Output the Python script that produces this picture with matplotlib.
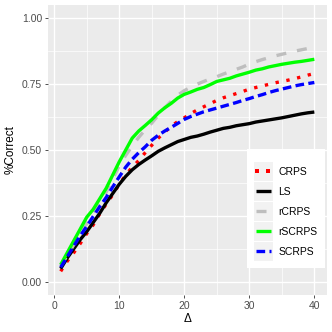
import matplotlib
matplotlib.use("Agg")
import matplotlib.pyplot as plt
from matplotlib.patches import Rectangle
from matplotlib.lines import Line2D
import numpy as np

plt.rcParams['font.family'] = ['Liberation Sans', 'DejaVu Sans']

delta = list(range(1, 41))

crps = [0.040, 0.078, 0.110, 0.145, 0.183, 0.216, 0.258, 0.295, 0.330, 0.370,
        0.405, 0.435, 0.460, 0.490, 0.518, 0.545, 0.568, 0.590, 0.608, 0.622,
        0.638, 0.652, 0.664, 0.676, 0.688, 0.698, 0.706, 0.714, 0.722, 0.731,
        0.737, 0.743, 0.749, 0.755, 0.760, 0.765, 0.771, 0.777, 0.784, 0.790]

ls = [0.050, 0.090, 0.125, 0.160, 0.190, 0.225, 0.260, 0.300, 0.335, 0.370,
      0.400, 0.425, 0.445, 0.462, 0.478, 0.495, 0.508, 0.520, 0.532, 0.540,
      0.548, 0.553, 0.560, 0.568, 0.575, 0.582, 0.586, 0.592, 0.596, 0.600,
      0.606, 0.610, 0.614, 0.618, 0.622, 0.627, 0.632, 0.637, 0.641, 0.644]

rcrps = [0.060, 0.100, 0.140, 0.180, 0.220, 0.260, 0.300, 0.340, 0.390, 0.440,
         0.480, 0.515, 0.548, 0.577, 0.602, 0.632, 0.660, 0.685, 0.708, 0.725,
         0.738, 0.750, 0.760, 0.770, 0.778, 0.788, 0.797, 0.806, 0.815, 0.826,
         0.835, 0.843, 0.850, 0.857, 0.863, 0.869, 0.875, 0.880, 0.885, 0.890]

rscrps = [0.065, 0.110, 0.155, 0.200, 0.245, 0.275, 0.315, 0.355, 0.405, 0.455,
          0.500, 0.545, 0.572, 0.593, 0.615, 0.640, 0.660, 0.677, 0.697, 0.711,
          0.720, 0.730, 0.737, 0.748, 0.760, 0.766, 0.772, 0.781, 0.788, 0.795,
          0.803, 0.808, 0.815, 0.820, 0.825, 0.829, 0.833, 0.836, 0.840, 0.844]

scrps = [0.055, 0.095, 0.135, 0.175, 0.210, 0.248, 0.285, 0.320, 0.360, 0.398,
         0.435, 0.465, 0.490, 0.512, 0.537, 0.556, 0.572, 0.586, 0.601, 0.616,
         0.627, 0.636, 0.645, 0.652, 0.659, 0.666, 0.673, 0.680, 0.688, 0.695,
         0.703, 0.710, 0.718, 0.725, 0.731, 0.737, 0.743, 0.748, 0.752, 0.756]

names = ["CRPS", "LS", "rCRPS", "rSCRPS", "SCRPS"]
series = [crps, ls, rcrps, rscrps, scrps]
colors = ["#FF0000", "#000000", "#BEBEBE", "#00FF00", "#0000FF"]
styles = [(0, (1, 2.3)), "-", (0, (3.0, 3.3)), "-", (0, (2.6, 1.3))]
LW = 2.4
style_of = dict(zip(names, styles))


class KeyHandler:
    # ggplot-like legend key: grey square with the line on top
    def legend_artist(self, legend, orig_handle, fontsize, handlebox):
        x0, y0 = -handlebox.xdescent, -handlebox.ydescent
        w, h = handlebox.width, handlebox.height
        tr = handlebox.get_transform()
        bg = Rectangle((x0, y0), w, h, facecolor="#F2F2F2", edgecolor='none', transform=tr)
        handlebox.add_artist(bg)
        name = orig_handle.get_label()
        if name == "CRPS":
            # dotted key: two square dots
            ln = Line2D([x0 + 0.17 * w, x0 + 0.75 * w], [y0 + h / 2] * 2, linestyle='none',
                        marker='s', markersize=LW * 0.95, markeredgewidth=0,
                        color=orig_handle.get_color(), transform=tr)
        else:
            ln = Line2D([x0 + 1, x0 + w - 1], [y0 + h / 2] * 2, color=orig_handle.get_color(),
                        linestyle=style_of[name], lw=LW, transform=tr,
                        dash_capstyle='butt', solid_capstyle='butt')
        handlebox.add_artist(ln)
        return ln


fig = plt.figure(figsize=(3.32, 3.32), dpi=100)
ax = fig.add_axes([0.1446, 0.1114, 0.8404, 0.8736])
ax.set_facecolor("#EBEBEB")

lines = []
for name, vals, c, st in zip(names, series, colors, styles):
    ln, = ax.plot(delta, vals, color=c, linestyle=st, lw=LW,
                  dash_capstyle='butt', solid_capstyle='butt', label=name)
    lines.append(ln)

ax.set_xlim(-0.95, 41.95)
ax.set_ylim(-0.05, 1.05)
ax.set_xticks([0, 10, 20, 30, 40])
ax.set_xticks([5, 15, 25, 35], minor=True)
ax.set_yticks([0, 0.25, 0.5, 0.75, 1.0])
ax.set_yticklabels(["0.00", "0.25", "0.50", "0.75", "1.00"])
ax.set_yticks([0.125, 0.375, 0.625, 0.875], minor=True)
ax.grid(which='major', color='white', lw=1.0)
ax.grid(which='minor', color='white', lw=0.5)
ax.set_axisbelow(True)
for s in ax.spines.values():
    s.set_visible(False)
ax.tick_params(which='major', length=2.3, width=0.6, color='#333333',
               labelcolor='#4D4D4D', labelsize=7.5, pad=2.0)
ax.tick_params(which='minor', length=0)

ax.set_xlabel("Δ", fontsize=8.5)
ax.xaxis.set_label_coords(0.5, -0.063)
ax.set_ylabel("%Correct", fontsize=8.5)
ax.yaxis.set_label_coords(-0.112, 0.5)

leg = ax.legend(lines, names, handler_map={Line2D: KeyHandler()},
                loc='lower right', bbox_to_anchor=(0.979, 0.193),
                bbox_transform=fig.transFigure, fontsize=7.5,
                handlelength=1.8, handleheight=2.36, labelspacing=0.14,
                handletextpad=0.55, borderpad=0.7, borderaxespad=0,
                frameon=True, fancybox=False, title=" ", title_fontsize=3)
leg.get_frame().set_facecolor("white")
leg.get_frame().set_edgecolor("none")
leg.get_frame().set_alpha(1)

fig.savefig("out.png", dpi=100)
